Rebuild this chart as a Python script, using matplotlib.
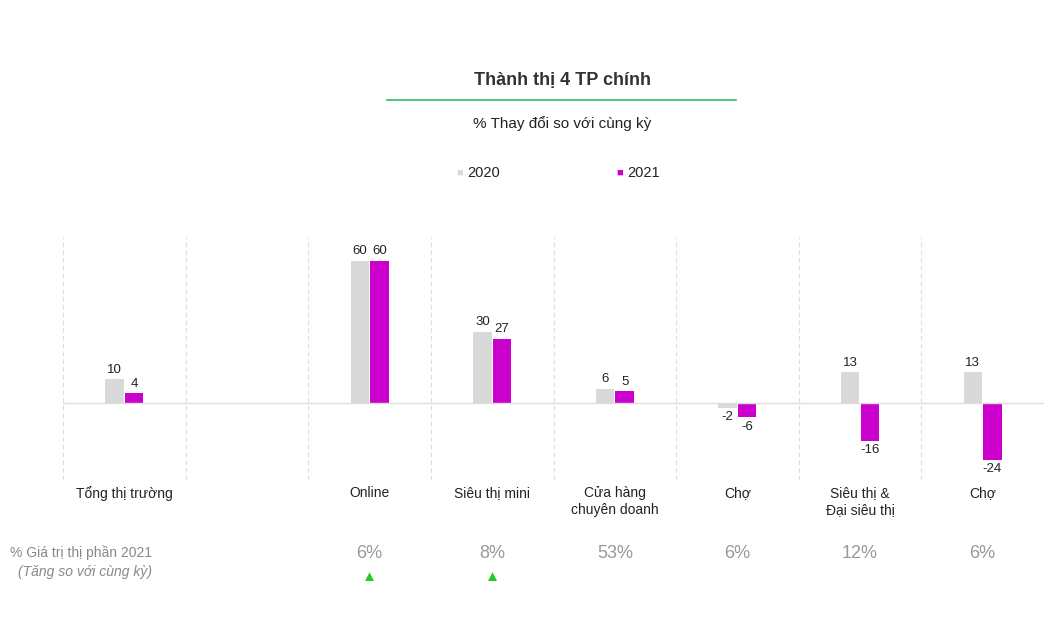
import matplotlib
matplotlib.use("Agg")
import matplotlib.pyplot as plt
import numpy as np

plt.rcParams["font.family"] = "Liberation Sans"

categories = ["Tổng thị trường", "", "Online", "Siêu thị mini", "Cửa hàng\nchuyên doanh",
              "Chợ", "Siêu thị &\nĐại siêu thị", "Chợ"]
v2020 = [10, None, 60, 30, 6, -2, 13, 13]
v2021 = [4, None, 60, 27, 5, -6, -16, -24]
shares = ["", "", "6%", "8%", "53%", "6%", "12%", "6%"]
up = [False, False, True, True, False, False, False, False]

W, H = 1051, 620
fig = plt.figure(figsize=(W / 100, H / 100), dpi=100)
ax = fig.add_axes([63 / W, (H - 480) / H, 981 / W, 243 / H])
ax.set_xlim(-0.5, 7.5)
ax.set_ylim(-32.5, 70)
ax.axis("off")

gray = "#D9D9D9"
mag = "#CC00CC"
bw = 0.15
for i in range(len(categories)):
    if v2020[i] is None:
        continue
    for val, off, col in ((v2020[i], -0.08, gray), (v2021[i], 0.08, mag)):
        ax.bar(i + off, val, width=bw, color=col)
        ax.text(i + off, val + (1.5 if val >= 0 else -1.5), str(val), ha="center",
                va="bottom" if val >= 0 else "top", fontsize=9.5, color="#222222")
ax.axhline(0, color="#DDDDDD", lw=1)
for k in range(9):
    ax.axvline(k - 0.5, color="#DDDDDD", lw=0.8, ls=(0, (4, 3)))

def px(x, y):
    return x / W, 1 - y / H

for i, c in enumerate(categories):
    xc = 63 + (i + 0.5) * 981 / 8
    fig.text(*px(xc, 486), c, ha="center", va="top", fontsize=10, color="#222222",
             linespacing=1.25)
    if shares[i]:
        fig.text(*px(xc, 553), shares[i], ha="center", va="center", fontsize=13, color="#999999")
    if up[i]:
        fig.text(*px(xc, 577), "▲", ha="center", va="center", fontsize=11, color="#22CC22")

fig.text(*px(10, 553), "% Giá trị thị phần 2021", ha="left", va="center", fontsize=10, color="#888888")
fig.text(*px(18, 572), "(Tăng so với cùng kỳ)", ha="left", va="center", fontsize=10,
         color="#888888", style="italic")

fig.text(*px(562, 81), "Thành thị 4 TP chính", ha="center", va="center", fontsize=13,
         fontweight="bold", color="#333333")
fig.add_artist(plt.Line2D([387 / W, 736 / W], [1 - 100 / H] * 2, color="#33BB66", lw=1.2))
fig.text(*px(562, 124), "% Thay đổi so với cùng kỳ", ha="center", va="center", fontsize=11,
         color="#222222")
fig.text(*px(460, 173), "■", ha="center", va="center", fontsize=8, color=gray)
fig.text(*px(467, 173), "2020", ha="left", va="center", fontsize=10.5, color="#222222")
fig.text(*px(620, 173), "■", ha="center", va="center", fontsize=8, color=mag)
fig.text(*px(627, 173), "2021", ha="left", va="center", fontsize=10.5, color="#222222")

fig.savefig("out.png", dpi=100)
